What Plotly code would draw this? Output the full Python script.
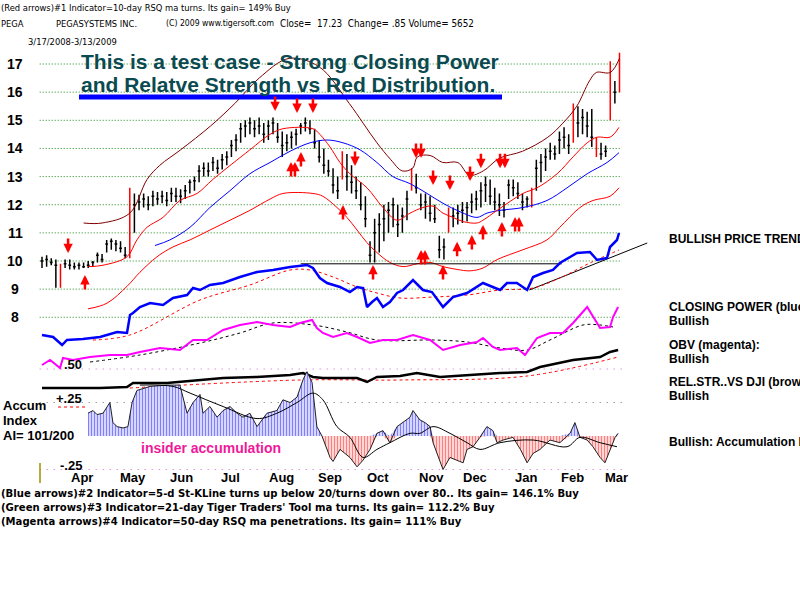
import plotly.graph_objects as go

# ---------------- DATA ----------------
# price bars: every 2nd trading day starting 3/17/2008 (day index)
bar_day = list(range(0, 252, 2))
high = [10.15,10.2,10.1,10.05,9.9,10.05,10.05,9.95,9.95,9.95,
        10.0,10.0,10.3,10.25,10.75,10.8,10.75,10.7,10.5,12.6,
        12.4,12.35,12.4,12.3,12.5,12.45,12.5,12.45,12.6,12.6,
        12.55,12.7,12.9,13.0,13.4,13.5,13.5,13.7,13.6,13.8,
        13.9,14.3,14.5,14.9,15.0,15.1,15.0,15.1,14.9,15.0,
        15.1,14.9,14.6,14.5,14.6,14.7,14.9,15.1,15.0,14.7,
        14.3,14.0,13.6,13.3,13.0,13.9,13.8,13.4,13.0,12.8,
        12.3,10.7,11.5,11.7,12.0,12.1,12.25,12.0,11.9,12.5,
        13.3,13.1,12.4,12.4,12.3,12.0,10.9,10.8,11.9,11.9,
        12.0,12.1,12.1,12.4,12.5,12.8,13.0,12.9,12.6,12.4,
        12.1,12.9,12.9,12.8,12.4,12.3,12.6,13.6,13.8,14.0,
        14.2,14.1,14.6,14.75,14.5,15.6,15.5,15.4,15.3,15.4,
        14.4,14.2,14.1,17.1,16.4,17.4]
low = [9.75,9.8,9.85,9.05,9.05,9.75,9.7,9.7,9.7,9.75,
       9.75,9.8,9.95,9.95,10.3,10.4,10.35,10.3,10.1,10.1,
       11.0,11.8,11.9,11.8,11.95,12.0,12.05,11.95,12.1,12.1,
       12.05,12.2,12.4,12.5,12.8,13.0,13.0,13.2,13.1,13.25,
       13.4,13.7,13.9,14.2,14.4,14.5,14.4,14.5,14.2,14.3,
       14.5,14.2,13.7,13.9,14.0,14.1,14.5,14.6,14.5,14.0,
       13.5,13.1,13.0,12.4,12.2,12.9,12.5,12.4,12.2,11.8,
       11.2,9.95,9.95,10.3,10.7,11.0,11.2,10.85,11.0,11.45,
       12.5,12.4,11.8,11.5,11.4,11.35,10.1,10.05,11.0,11.2,
       11.3,11.35,11.4,11.7,11.8,11.9,12.1,12.0,11.8,11.6,
       11.55,12.2,12.3,12.2,11.8,11.9,11.9,12.5,12.8,13.2,
       13.6,13.6,13.8,14.0,13.8,14.2,14.4,14.5,14.4,14.05,
       13.7,13.6,13.7,15.0,15.6,16.0]
close = [10.0,10.05,9.95,9.85,9.85,9.9,9.85,9.8,9.85,9.8,
         9.85,9.95,10.2,10.05,10.6,10.7,10.6,10.45,10.2,12.4,
         12.0,12.1,12.2,12.0,12.3,12.2,12.3,12.15,12.4,12.3,
         12.3,12.5,12.8,12.85,13.2,13.3,13.2,13.5,13.3,13.6,
         13.7,14.1,14.3,14.7,14.8,14.9,14.7,14.8,14.5,14.8,
         14.9,14.4,14.1,14.2,14.4,14.5,14.8,14.9,14.7,14.2,
         13.7,13.4,13.2,12.7,12.5,13.7,13.0,12.8,12.5,12.0,
         11.5,10.2,11.0,11.3,11.5,11.8,12.0,11.3,11.6,12.2,
         13.0,12.6,12.0,12.1,11.7,11.5,10.4,10.5,11.5,11.6,
         11.7,11.8,11.9,12.1,12.2,12.5,12.7,12.3,12.1,12.0,
         11.8,12.7,12.6,12.4,12.1,12.2,12.4,13.3,13.5,13.7,
         13.9,13.8,14.3,14.4,14.1,15.2,14.9,15.1,14.8,14.4,
         13.9,13.8,13.9,16.3,16.0,17.2]
red_bars = [4, 19, 65, 80, 88, 106, 115, 120, 123, 125]

# bands / moving averages (day index, price)
upper_x = [18,26,38,45.5,51,60,73,83.5,94,107,120,133,139,145,151,156,160.5,162.5,168,173.5,180,185,191,198,208,219,225.5,231.5,237,240,246,250]
upper_y = [11.35,11.35,11.7,12.9,13.4,13.95,14.8,15.6,16.5,17.2,16.9,15.6,14.9,14.2,13.6,13.2,13.3,13.7,13.75,13.5,13.5,13.05,13.2,13.65,13.9,14.4,14.9,15.5,16.4,16.7,16.7,17.2]
mid_x = [20,26.4,36.8,41.1,45.5,52.4,59.7,67.1,74,90,98.7,104.3,117.3,120.3,124.7,129,133.3,140.7,147.6,153.7,159.3,164.9,169.3,173.6,177.9,182.3,188.3,190.9,197,208.2,214.3,223,229.9,236,240.3,245.9,249.8]
mid_y = [9.8,9.85,10.15,10.75,11.2,11.55,12.15,12.4,12.9,13.95,14.5,14.7,14.7,14.5,14.05,13.5,13.1,12.6,11.9,11.45,11.7,11.9,11.95,11.7,11.55,11.4,11.35,11.45,11.8,12.4,12.6,13.1,13.7,14.2,14.4,14.4,14.75]
ma_x = [48.9,55.4,64.1,72.7,81.4,90,98.7,107.4,116,123.4,130.3,137.7,145,151.9,159.3,166.7,173.6,181,188.3,192.6,198.3,208.2,218.6,227.3,236,244.6,249.8]
ma_y = [10.55,10.75,11.2,11.9,12.5,13.1,13.5,13.9,14.2,14.3,14.2,13.95,13.5,13.0,12.75,12.4,12.05,11.75,11.55,11.7,11.8,11.9,12.15,12.6,13.1,13.5,13.85]
lower_x = [19.9,28.1,36.8,42.4,49.8,56.7,64.1,72.7,81.4,90,98.7,104.3,117.3,121.6,127.7,132,136.4,140.7,145,150.6,156.3,162.3,168,173.6,179.7,185.3,190.9,197,208.2,218.6,224.2,232.9,238.5,245.9,249.8]
lower_y = [8.3,8.5,9.1,9.6,10.15,10.5,10.75,11.1,11.45,11.8,12.2,12.4,12.4,12.3,11.9,11.55,11.1,10.65,10.3,9.95,9.8,9.9,9.95,9.8,9.7,9.65,9.75,10.05,10.4,10.75,11.2,11.9,12.15,12.3,12.6]
support_x = [112, 225]
support_y = [9.9, 9.9]
trend_x = [211, 262]
trend_y = [8.97, 10.64]

# Closing Power (blue) and its ma
cp_x = [0,4.8,8.7,10.8,17.7,25.1,32.5,36.8,38.1,39.4,42.4,46.8,52.4,56.7,62.8,65.4,68.4,72.7,78.4,85.7,93.1,100,107.4,114.7,117.3,120.3,123.4,129,133.3,136.4,139,140.7,142.9,145,147.6,150.6,153.7,156.3,160.6,164.9,168.8,173.6,177.9,184,190.9,198.3,201.3,205.6,210,212.6,216.9,221.2,224.2,231.6,237.2,240.3,244.6,245.9,248.9,249.8]
cp_y = [5,4,0,2.5,3,4,6.5,6,15,16,19,21,20,23.5,25,28.5,27.5,30,31,34,36.5,37.5,39,40,38.5,33.5,31,29,26.5,29,28.5,19,21.5,23.5,19,21.5,26,27.5,32.5,27.5,26.5,19,24,26,31,27.5,31,31,27.5,34,36,37.5,41,46,46.5,42.5,43.5,49,52.5,56]
cpma_x = [22,38,68.4,90,107.4,116,126,136.4,145,155,169.3,184,198.3,212.6,224.2,237.2,249.8]
cpma_y = [2.5,5,22.5,30,37.5,37.5,34,29,26,23.5,24,25,27.5,28.5,33.5,41,47.5]

# OBV (magenta) and its ma
obv_x = [0,3.5,7.8,9.1,13.4,20.8,29.4,36.8,42.4,51.1,59.7,65.4,71.4,78.4,85.7,93.1,100,107.4,111.7,116.9,119,121.6,126,132,136.4,142,147.6,153.7,160.6,168,173.6,181,188.3,190.9,195.2,198.3,205.6,209.1,214.3,219.9,225.5,229.9,236,240.3,241.6,245.9,247.2,249.4]
obv_y = [5,10,2,12,10,13,15,15,18,22,20,30,30,40,45,48,45,43,47,50,42,37,33,37,33,27,30,30,35,30,20,25,28,32,23,20,22,15,32,37,37,47,63,47,42,43,53,63]
obvma_x = [20.8,42.4,68.4,85.7,100,117.3,132,145,169.3,184,198.3,210,219.9,234.2,241.6,247.2]
obvma_y = [8,15,27,37,47,45,38,30,30,28,22,20,30,45,45,43]

# Relative strength vs DJI and its ma
rs_x = [0,10.8,25.1,36.8,39.4,54.1,68.4,78.4,93.1,107.4,113,117.3,121.6,136.4,140.7,145,155,162.3,172.3,184,198.3,210,215.6,229.9,241.6,245.9,249.4]
rs_y = [102,102,102,103,107,107,110,112,113,115,117,113,112,112,108,113,114,117,113,115,117,118,123,130,133,138,140]
rsma_x = [38,111.7,155,210,249.4]
rsma_y = [102,110,110,114,133]

# Accumulation Index
ai_x = [19.9,22.1,23.8,26.4,29.4,30.7,32.5,35.1,37.2,39,41.1,46.8,54.1,59.7,62.8,65.4,68.4,69.7,72.7,75.8,
        78.4,81.4,84.4,87,90,93.1,97.4,101.7,104.3,107.4,110.4,113,114.7,116.9,119,121.2,124.7,126,129,133.3,
        136.4,139,142,145,147.6,150.6,153.7,156.3,159.3,160.6,163.6,165.8,168,169.3,172.3,173.6,176.6,179.7,182.3,184,
        186.6,189.6,192.6,195.2,197,199.6,203.9,207.1,210,212.6,215.6,219.9,224.2,228.6,230.7,232.9,236,238.5,241.6,243.7,
        245.9,248.1,249.4]
ai_y = [.17,.19,.16,.17,.25,.10,.07,.06,.07,.25,.34,.37,.38,.38,.17,.25,.31,.17,.22,.14,
        .19,.22,.17,.14,.17,.07,.17,.19,.27,.25,.29,.42,.48,.40,.07,0,-.16,-.19,-.10,-.16,
        -.23,-.18,-.10,.02,.04,-.05,.07,.10,.14,.19,.12,.10,.07,-.05,-.18,-.25,-.16,-.18,-.20,-.10,
        -.08,-.01,.07,.04,-.05,-.03,-.01,-.10,-.20,-.13,-.10,-.03,-.05,.02,.10,-.01,-.03,-.08,-.16,-.20,
        -.10,-.01,.02]
aima_x = [42.4,56.7,64.1,78.4,93.1,101.7,110.4,117.3,121.6,127.7,133.3,139,145,150.6,159.3,163.6,169.3,176.6,184,189.6,198.3,212.6,227.3,232.9,241.6,248.9]
aima_y = [.38,.37,.32,.22,.13,.17,.25,.32,.27,.07,-.01,-.16,-.10,-.05,.02,.02,.07,.02,-.05,-.10,-.05,-.03,-.08,-.01,-.05,-.08]

# arrows (day index, price at tip)
down_x = [11.3,100.9,110.4,117.3,135.5,161.9,164.1,169.3,176.6,185.3,190,198.3,200.4]
down_y = [10.28,15.33,15.26,15.26,13.38,13.66,13.66,12.70,12.52,12.84,13.30,13.30,13.30]
up_x = [18.6,107.8,109.5,112.1,130.3,143.3,164.1,165.8,173.6,179.7,186.1,190.9,199.1,204.8,206.5]
up_y = [9.50,13.52,13.52,13.87,11.99,9.86,10.39,10.39,9.86,10.68,10.92,11.28,11.39,11.56,11.56]

price_levels = [8, 9, 10, 11, 12, 13, 14, 15, 16, 17]
ai_levels = [0.50, 0.25, -0.25]
ai_level_labels = [".50", "+.25", "-.25"]
months = ["Apr", "May", "Jun", "Jul", "Aug", "Sep", "Oct", "Nov", "Dec", "Jan", "Feb", "Mar"]
month_start = [10, 32, 53, 74, 96, 117, 138, 161, 180, 202, 222, 241]

# ---------------- FIGURE ----------------
fig = go.Figure()

# pixel helpers for layout placement only
def px(x):
    return x / 800.0
def py(y):
    return 1 - y / 600.0

# grid lines
for lv in price_levels:
    fig.add_shape(type="line", xref="x", yref="y", x0=-1, x1=251, y0=lv, y1=lv,
                  line=dict(color="#1a8a1a", width=1, dash="1px,2px"), layer="below")
ai_grid_cols = ["#d060d0", "#707070", "#d060d0"]
for lv, c in zip(ai_levels, ai_grid_cols):
    fig.add_shape(type="line", xref="x", yref="y5", x0=-1, x1=251, y0=lv, y1=lv,
                  line=dict(color=c, width=1, dash="1px,6px"), layer="below")

# accumulation index histogram
ai_pos = [max(v, 0) for v in ai_y]
ai_neg = [min(v, 0) for v in ai_y]
fig.add_trace(go.Scatter(x=ai_x, y=ai_pos, yaxis="y5", mode="lines", line=dict(width=0),
                         fill="tozeroy", fillcolor="rgba(0,0,0,0)",
                         fillpattern=dict(shape="|", fgcolor="#0000ff", bgcolor="white", size=3, solidity=0.55),
                         hoverinfo="skip"))
fig.add_trace(go.Scatter(x=ai_x, y=ai_neg, yaxis="y5", mode="lines", line=dict(width=0),
                         fill="tozeroy", fillcolor="rgba(0,0,0,0)",
                         fillpattern=dict(shape="|", fgcolor="#ff0000", bgcolor="white", size=3, solidity=0.55),
                         hoverinfo="skip"))
fig.add_trace(go.Scatter(x=ai_x, y=ai_y, yaxis="y5", mode="lines", line=dict(color="#202020", width=1),
                         hoverinfo="skip"))
fig.add_trace(go.Scatter(x=aima_x, y=aima_y, yaxis="y5", mode="lines", line=dict(color="black", width=1, shape="spline"),
                         hoverinfo="skip"))

# relative strength
fig.add_trace(go.Scatter(x=rsma_x, y=rsma_y, yaxis="y4", mode="lines",
                         line=dict(color="red", width=1, dash="dot", shape="spline"), hoverinfo="skip"))
fig.add_trace(go.Scatter(x=rs_x, y=rs_y, yaxis="y4", mode="lines", line=dict(color="black", width=2.5),
                         hoverinfo="skip"))

# OBV
fig.add_trace(go.Scatter(x=obvma_x, y=obvma_y, yaxis="y3", mode="lines",
                         line=dict(color="black", width=1, dash="dot", shape="spline"), hoverinfo="skip"))
fig.add_trace(go.Scatter(x=obv_x, y=obv_y, yaxis="y3", mode="lines", line=dict(color="#ff00ff", width=2),
                         hoverinfo="skip"))

# closing power
fig.add_trace(go.Scatter(x=cpma_x, y=cpma_y, yaxis="y2", mode="lines",
                         line=dict(color="red", width=1, dash="dot", shape="spline"), hoverinfo="skip"))
fig.add_trace(go.Scatter(x=cp_x, y=cp_y, yaxis="y2", mode="lines", line=dict(color="#0000ff", width=2.5),
                         hoverinfo="skip"))

# bands
fig.add_trace(go.Scatter(x=upper_x, y=upper_y, mode="lines", line=dict(color="#800000", width=1, shape="spline"), hoverinfo="skip"))
fig.add_trace(go.Scatter(x=lower_x, y=lower_y, mode="lines", line=dict(color="#ff0000", width=1, shape="spline"), hoverinfo="skip"))
fig.add_trace(go.Scatter(x=ma_x, y=ma_y, mode="lines", line=dict(color="#0000ff", width=1, shape="spline"), hoverinfo="skip"))
fig.add_trace(go.Scatter(x=mid_x, y=mid_y, mode="lines", line=dict(color="#ff0000", width=1, shape="spline"), hoverinfo="skip"))
fig.add_trace(go.Scatter(x=support_x, y=support_y, mode="lines", line=dict(color="black", width=1), hoverinfo="skip"))
fig.add_trace(go.Scatter(x=trend_x, y=trend_y, mode="lines", line=dict(color="black", width=1), hoverinfo="skip"))

# price bars
def pick(arr, ks):
    return [arr[k] for k in ks]
blk = [k for k in range(len(bar_day)) if k not in red_bars]
fig.add_trace(go.Ohlc(x=pick(bar_day, blk), open=pick(close, blk), high=pick(high, blk),
                      low=pick(low, blk), close=pick(close, blk),
                      increasing_line_color="black", decreasing_line_color="black",
                      line_width=1.5, tickwidth=0.3, hoverinfo="skip"))
fig.add_trace(go.Ohlc(x=pick(bar_day, red_bars), open=pick(close, red_bars), high=pick(high, red_bars),
                      low=pick(low, red_bars), close=pick(close, red_bars),
                      increasing_line_color="red", decreasing_line_color="red",
                      line_width=1.5, tickwidth=0.15, hoverinfo="skip"))

# arrows
for xa, ya in zip(down_x, down_y):
    fig.add_annotation(x=xa, y=ya, xref="x", yref="y", text="", showarrow=True, ax=0, ay=-16,
                       arrowhead=2, arrowsize=0.75, arrowwidth=2.5, arrowcolor="red")
for xa, ya in zip(up_x, up_y):
    fig.add_annotation(x=xa, y=ya, xref="x", yref="y", text="", showarrow=True, ax=0, ay=16,
                       arrowhead=2, arrowsize=0.75, arrowwidth=2.5, arrowcolor="red")

# ---------------- TEXT ----------------
NARROW = "DejaVu Sans Condensed, Liberation Sans Narrow, sans-serif"
SANS = "Liberation Sans, Arial, sans-serif"

def txt(x, y, s, size, color="black", bold=False, family=SANS, xanchor="left"):
    fig.add_annotation(x=px(x), y=py(y), xref="paper", yref="paper", text=s, showarrow=False,
                       xanchor=xanchor, yanchor="middle",
                       font=dict(family=family, size=size, color=color, weight="bold" if bold else "normal"),
                       borderpad=0)

txt(0, 8, "(Red arrows)#1 Indicator=10-day RSQ ma turns. Its gain= 149% Buy", 9.3, family=NARROW)
txt(0, 23, "PEGA", 9.3, family=NARROW)
txt(55, 23, "PEGASYSTEMS INC.", 9.3, family=NARROW)
txt(165, 23, "(C) 2009 www.tigersoft.com", 8.6, family=NARROW)
txt(279, 23, "Close=\u00a0\u00a017.23\u00a0\u00a0Change= .85 Volume= 5652", 9.8, family=NARROW)
txt(27, 41, "3/17/2008-3/13/2009", 9.3, family=NARROW)

txt(80, 62, "This is a test case - Strong Closing Power", 21, color="#0b4a50", bold=True)
txt(80, 85, "and Relatve Strength vs Red Distribution.", 21, color="#0b4a50", bold=True)
fig.add_shape(type="line", xref="paper", yref="paper", x0=px(79), x1=px(502), y0=py(97), y1=py(97),
              line=dict(color="#0000ff", width=5))

for lv in price_levels:
    fig.add_annotation(x=px(15), y=lv, xref="paper", yref="y", text=str(lv), showarrow=False,
                       xanchor="center", yanchor="middle",
                       font=dict(family=SANS, size=14, color="black", weight="bold"))

for lv, lab in zip(ai_levels, ai_level_labels):
    fig.add_annotation(x=px(84), y=lv, xref="paper", yref="y5", text=lab, showarrow=False,
                       xanchor="right", yanchor="bottom", yshift=-5,
                       font=dict(family=SANS, size=13, color="black", weight="bold"))
fig.add_shape(type="line", xref="paper", yref="paper", x0=px(58), x1=px(86), y0=py(407), y1=py(407),
              line=dict(color="red", width=1, dash="dot"))

for m, s in zip(months, month_start):
    fig.add_annotation(x=s + 7.5, y=py(477), xref="x", yref="paper", text=m, showarrow=False,
                       xanchor="center", yanchor="middle",
                       font=dict(family=SANS, size=13, color="black", weight="bold"))
fig.add_shape(type="line", xref="paper", yref="paper", x0=px(40), x1=px(40), y0=py(463), y1=py(483),
              line=dict(color="#a09000", width=1.5))

txt(2, 405, "Accum", 13, bold=True)
txt(2, 420, "Index", 13, bold=True)
txt(2, 435, "AI= 101/200", 13, bold=True)
txt(140, 448, "insider accumulation", 14, color="#f0189a", bold=True)

txt(668, 239, "BULLISH PRICE TREND", 12, bold=True)
txt(668, 307, "CLOSING POWER (blue)", 12, bold=True)
txt(668, 321, "Bullish", 12, bold=True)
txt(668, 345, "OBV (magenta):", 12, bold=True)
txt(668, 359, "Bullish", 12, bold=True)
txt(668, 382, "REL.STR..VS DJI (brown)", 12, bold=True)
txt(668, 396, "Bullish", 12, bold=True)
txt(668, 442, "Bullish: Accumulation Rising", 12, bold=True)

txt(0, 493, "(Blue arrows)#2 Indicator=5-d St-KLine turns up below 20/turns down over 80.. Its gain= 146.1% Buy", 11.2, bold=True, family=NARROW)
txt(0, 507, "(Green arrows)#3 Indicator=21-day Tiger Traders' Tool ma turns. Its gain= 112.2% Buy", 11.2, bold=True, family=NARROW)
txt(0, 521, "(Magenta arrows)#4 Indicator=50-day RSQ ma penetrations. Its gain= 111% Buy", 11.2, bold=True, family=NARROW)

# ---------------- LAYOUT ----------------
hidden = dict(visible=False, fixedrange=True)
fig.update_layout(
    width=800, height=600, margin=dict(l=0, r=0, t=0, b=0),
    paper_bgcolor="white", plot_bgcolor="white", showlegend=False,
    xaxis=dict(range=[-18.18, 328.14], rangeslider=dict(visible=False), **hidden),
    yaxis=dict(range=[-2.047, 19.275], **hidden),
    yaxis2=dict(range=[-127.5, 172.5], overlaying="y", **hidden),
    yaxis3=dict(range=[-230, 370], overlaying="y", **hidden),
    yaxis4=dict(range=[-110, 490], overlaying="y", **hidden),
    yaxis5=dict(range=[-1.2239, 3.2537], overlaying="y", **hidden),
)

fig.write_html("out.html")
